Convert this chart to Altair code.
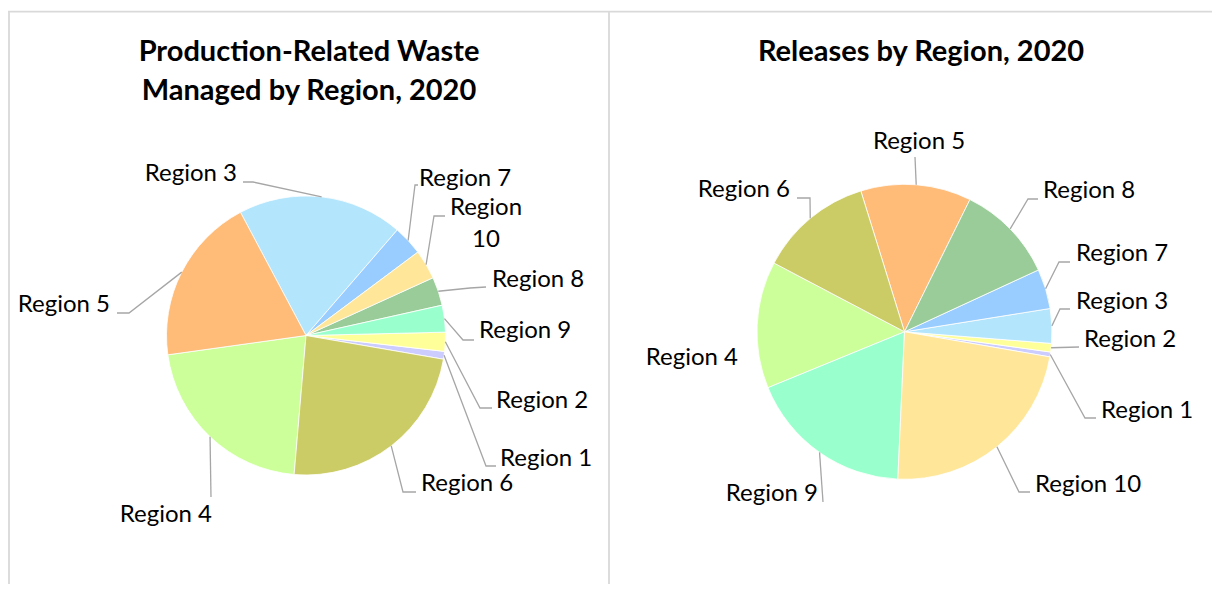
import math
import altair as alt
import pandas as pd

# ---------------- data ----------------
regions = [f"Region {i}" for i in range(1, 11)]
# share of total (%)
waste_share = [0.9, 2.2, 19.1, 21.4, 19.4, 23.6, 3.45, 3.3, 3.1, 3.4]
release_share = [0.53, 0.94, 3.78, 13.9, 12.1, 12.5, 4.36, 10.8, 18.1, 23.0]
colors = ["#ccccff", "#ffff99", "#b3e5fc", "#ccff99", "#ffbb78",
          "#cccc66", "#99ccff", "#99cc99", "#99ffcc", "#ffe699"]

left_title = ["Production-Related Waste", "Managed by Region, 2020"]
right_title = ["Releases by Region, 2020"]

# ---------------- layout (page pixels) ----------------
OFF = 8
FONT = "Lato"
A0 = math.radians(99.8)          # angle where the first (largest) slice starts
LEFT_PIE = dict(cx=306, cy=335.5, r=139.5)
RIGHT_PIE = dict(cx=904.5, cy=331.8, r=147.5)

# label placement: region -> (x, y, align, leader elbow, leader end)
left_labels = {
    "Region 3": (237, 174, "right", (253, 182), (243, 182)),
    "Region 7": (419, 179, "left", (415, 185), (418, 185)),
    "Region 10": (486, 208, "center", (434, 216), (445, 216)),
    "Region 8": (492, 280, "left", (470, 288), (486, 287)),
    "Region 9": (479, 331, "left", (463, 340), (474, 340)),
    "Region 2": (496, 401, "left", (480, 408), (492, 408)),
    "Region 1": (500, 459, "left", (486, 466), (496, 466)),
    "Region 6": (421, 484, "left", (403, 492), (416, 492)),
    "Region 4": (212, 515, "right", (211, 497), (211, 497)),
    "Region 5": (110, 305, "right", (129, 313), (117, 313)),
}
right_labels = {
    "Region 5": (919, 142, "center", (915, 157), (915, 157)),
    "Region 6": (790, 190, "right", (810, 198), (797, 198)),
    "Region 8": (1043, 191, "left", (1028, 199), (1038, 199)),
    "Region 7": (1076, 254, "left", (1059, 262), (1070, 262)),
    "Region 3": (1076, 302, "left", (1060, 309), (1070, 309)),
    "Region 2": (1084, 340, "left", (1079, 347), (1079, 347)),
    "Region 1": (1101, 411, "left", (1085, 418), (1096, 418)),
    "Region 10": (1035, 485, "left", (1019, 492), (1030, 492)),
    "Region 9": (818, 494, "right", (823, 502), (823, 502)),
    "Region 4": (738, 358, "right", None, None),
}

W, H = 1204, 576


def pie_layer(values, pie):
    df = pd.DataFrame({"region": regions, "value": values})
    return alt.Chart(df).mark_arc(
        outerRadius=pie["r"], stroke="white", strokeWidth=0.8
    ).encode(
        theta=alt.Theta("value:Q", stack=True,
                        scale=alt.Scale(range=[A0, A0 + 2 * math.pi])),
        color=alt.Color("region:N", scale=alt.Scale(domain=regions, range=colors),
                        legend=None),
        order=alt.Order("value:Q", sort="descending"),
        x=alt.value(pie["cx"] - OFF),
        y=alt.value(pie["cy"] - OFF),
    )


def mid_points(values, pie):
    total = sum(values)
    order = sorted(range(len(values)), key=lambda i: -values[i])
    cum = 0.0
    pts = {}
    for i in order:
        a = A0 + 2 * math.pi * (cum + values[i] / 2) / total
        pts[regions[i]] = (pie["cx"] + pie["r"] * math.sin(a),
                           pie["cy"] - pie["r"] * math.cos(a))
        cum += values[i]
    return pts


leader_rows = []
label_rows = []
for name, values, pie, labels in [("L", waste_share, LEFT_PIE, left_labels),
                                  ("R", release_share, RIGHT_PIE, right_labels)]:
    mids = mid_points(values, pie)
    for reg, (tx, ty, align, elbow, end) in labels.items():
        text = "Region\n10" if (name == "L" and reg == "Region 10") else reg
        label_rows.append(dict(key=name + reg, label=text, tx=tx - OFF, ty=ty - OFF, align=align))
        if elbow is None:
            continue
        for k, (px, py) in enumerate([mids[reg], elbow, end]):
            leader_rows.append(dict(key=name + reg, idx=k, px=px - OFF, py=py - OFF))

leaders_df = pd.DataFrame(leader_rows)
labels_df = pd.DataFrame(label_rows)

leaders = alt.Chart(leaders_df).mark_line(color="#a6a6a6", strokeWidth=1.3).encode(
    x=alt.X("px:Q", scale=None, axis=None),
    y=alt.Y("py:Q", scale=None, axis=None),
    detail="key:N",
    order="idx:Q",
)

label_layers = []
for align in ["left", "right", "center"]:
    sub = labels_df[labels_df["align"] == align]
    label_layers.append(
        alt.Chart(sub).mark_text(
            align=align, baseline="middle", font=FONT, fontSize=24,
            color="#000000", lineBreak="\n", lineHeight=32
        ).encode(
            x=alt.X("tx:Q", scale=None, axis=None),
            y=alt.Y("ty:Q", scale=None, axis=None),
            text="label:N",
        )
    )

title_df = pd.DataFrame({
    "t": left_title + right_title,
    "tx": [309 - OFF, 309 - OFF, 921 - OFF],
    "ty": [52 - OFF, 91 - OFF, 52 - OFF],
})
titles = alt.Chart(title_df).mark_text(
    align="center", baseline="middle", font=FONT, fontSize=29,
    fontWeight="bold", color="#000000"
).encode(
    x=alt.X("tx:Q", scale=None, axis=None),
    y=alt.Y("ty:Q", scale=None, axis=None),
    text="t:N",
)

one = alt.Data(values=[{}])
border_color = "#d9d9d9"
borders = [
    alt.Chart(one).mark_rule(color=border_color, strokeWidth=1.8).encode(
        x=alt.value(1), y=alt.value(3.7), y2=alt.value(H)),
    alt.Chart(one).mark_rule(color=border_color, strokeWidth=1.8).encode(
        x=alt.value(601), y=alt.value(3.7), y2=alt.value(H)),
    alt.Chart(one).mark_rule(color=border_color, strokeWidth=1.8).encode(
        x=alt.value(0), x2=alt.value(W), y=alt.value(3.7)),
]

chart = alt.layer(
    *borders,
    pie_layer(waste_share, LEFT_PIE),
    pie_layer(release_share, RIGHT_PIE),
    leaders,
    *label_layers,
    titles,
).resolve_scale(
    theta="independent"
).properties(
    width=W, height=H, padding=0,
    autosize=alt.AutoSizeParams(type="none"),
    background="white",
).configure_view(stroke=None)

chart.save("out.html", embed_options={"renderer": "svg", "actions": False})
